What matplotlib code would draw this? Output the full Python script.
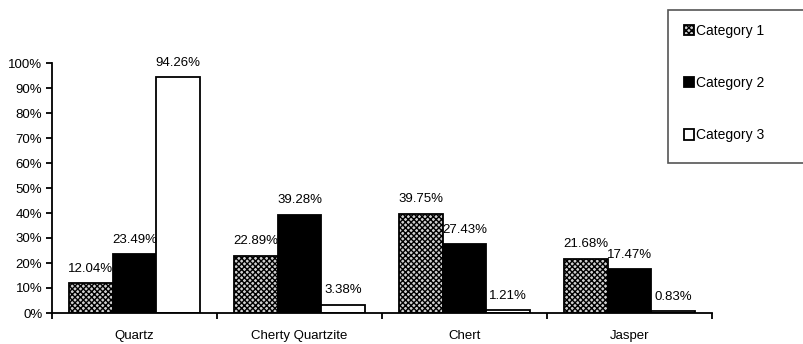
import matplotlib.pyplot as plt
from matplotlib.patches import Rectangle
import numpy as np

plt.rcParams['font.family'] = ['Liberation Sans', 'DejaVu Sans']
plt.rcParams['hatch.linewidth'] = 1.0
plt.rcParams['hatch.color'] = '#222222'

stones = ["Quartz", "Cherty Quartzite", "Chert", "Jasper"]
cat1 = [12.04, 22.89, 39.75, 21.68]
cat2 = [23.49, 39.28, 27.43, 17.47]
cat3 = [94.26, 3.38, 1.21, 0.83]
series_names = ["Category 1", "Category 2", "Category 3"]

fig = plt.figure(figsize=(8.04, 3.44), dpi=100)
ax = fig.add_axes([52 / 804, 31 / 344, 660 / 804, 250 / 344])

x = np.arange(len(stones))
w = 0.264
styles = [dict(facecolor='#d0d0d0', hatch='xxxxxx'),
          dict(facecolor='black'),
          dict(facecolor='white')]

handles = []
for i, (vals, st) in enumerate(zip([cat1, cat2, cat3], styles)):
    pos = x + (i - 1) * w
    bars = ax.bar(pos, vals, width=w, edgecolor='black', linewidth=1.3, **st)
    handles.append(bars)
    for p, v in zip(pos, vals):
        ax.annotate(f"{v:.2f}%", (p, v), xytext=(0, 6), textcoords='offset points',
                    ha='center', va='bottom', fontsize=9.5)

ax.set_xlim(-0.5, len(stones) - 0.5)
ax.set_ylim(0, 100)
ax.set_yticks(np.arange(0, 101, 10))
ax.set_yticklabels([f"{t}%" for t in range(0, 101, 10)], fontsize=9.5)

# category labels sit between the boundary ticks
ax.set_xticks(np.arange(-0.5, len(stones), 1.0))
ax.set_xticklabels([])
ax.set_xticks(x, minor=True)
ax.set_xticklabels(stones, minor=True, fontsize=9.5)
ax.tick_params(axis='x', which='minor', length=0, pad=12)
ax.tick_params(axis='x', which='major', length=4, width=1.3, direction='out')
ax.tick_params(axis='y', length=4, width=1.3, pad=3)

for s in ['top', 'right']:
    ax.spines[s].set_visible(False)
for s in ['left', 'bottom']:
    ax.spines[s].set_linewidth(1.3)

# legend box running off the right edge
fig.patches.append(Rectangle((668 / 804, 1 - 163 / 344), 0.2, 153 / 344,
                             transform=fig.transFigure, facecolor='white',
                             edgecolor='#555555', linewidth=1.2, zorder=0))
leg = fig.legend(handles, series_names, loc='upper left',
                 bbox_to_anchor=(677 / 804, 1 - 17 / 344), frameon=False,
                 fontsize=10, handlelength=0.75, handleheight=0.75,
                 handletextpad=0.15, labelspacing=2.75, borderpad=0)

fig.savefig("out.png", dpi=100)
